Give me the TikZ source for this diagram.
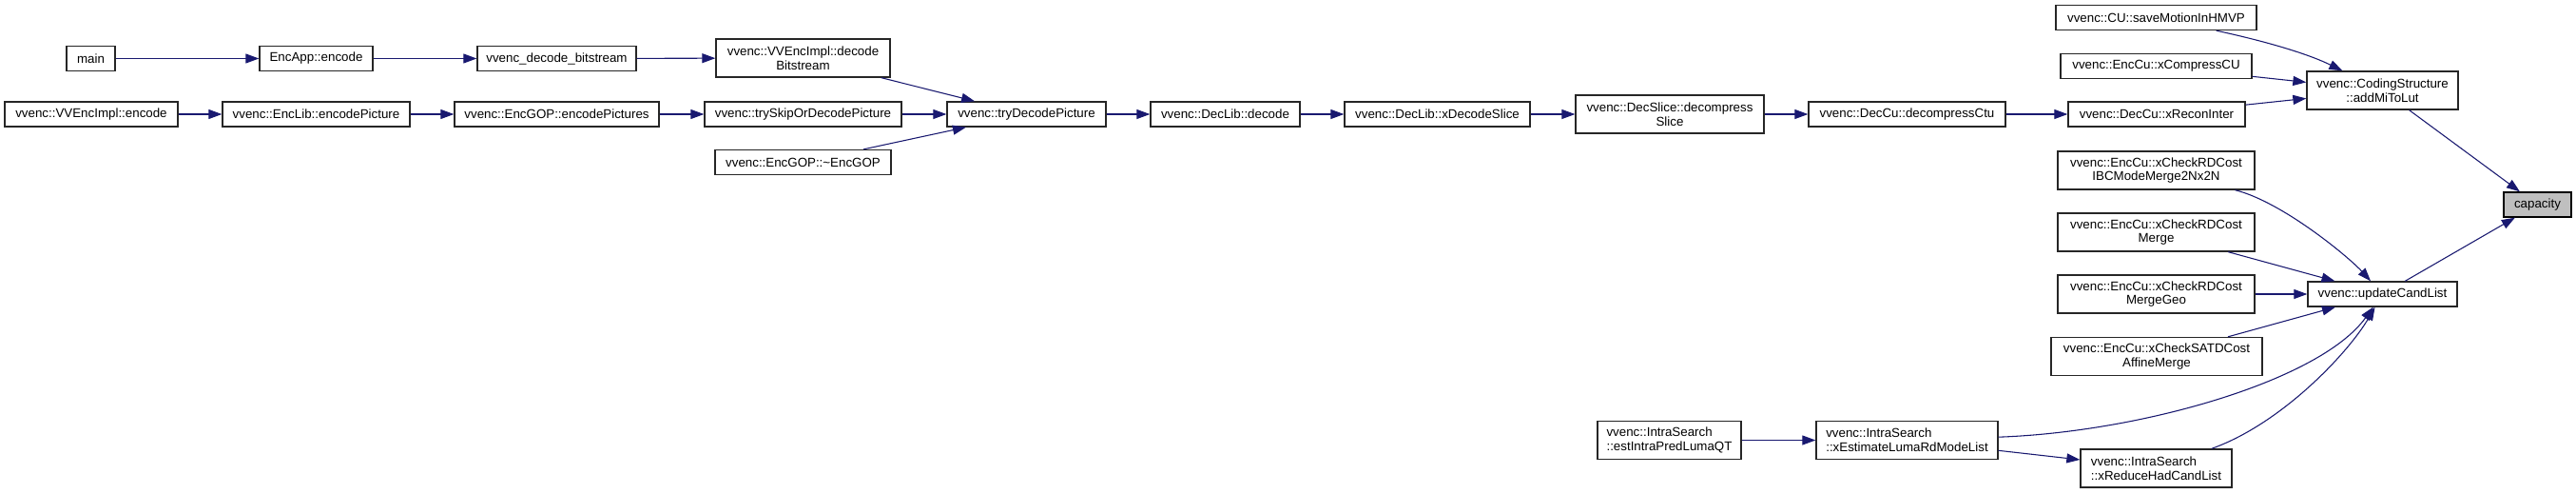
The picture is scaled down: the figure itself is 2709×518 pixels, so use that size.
\documentclass[tikz,border=0pt]{standalone}
\usepackage{fontspec}
\setmainfont{Liberation Sans}
\usetikzlibrary{arrows.meta}
\definecolor{edgeblue}{HTML}{191970}
\definecolor{capfill}{HTML}{BFBFBF}
\definecolor{boxline}{HTML}{262626}
\begin{document}
\begin{tikzpicture}[x=0.75pt,y=-0.75pt,
  box/.style={draw=boxline, line width=1pt, fill=white, inner sep=0pt,
    font=\fontsize{10}{11}\selectfont, align=center},
  lbox/.style={box, align=left},
  sz/.style 2 args={minimum width=#1*0.75pt, minimum height=#2*0.75pt},
  call/.style={draw=edgeblue, line width=0.8pt, -{Triangle[length=10.5pt,width=7.5pt]}}
]
\fill[white] (0,0) rectangle (2709,518);
\useasboundingbox (0,0) rectangle (2709,518);

% nodes
\node[box, sz={51}{26}]  (main)    at (95.5,61.5)  {main};
\node[box, sz={119}{26}] (encapp)  at (332.5,61.5) {EncApp::encode};
\node[box, sz={167}{26}] (vdb)     at (585.5,61.5) {vvenc\_decode\_bitstream};
\node[box, sz={183}{40}] (decbs)   at (844.5,61)   {vvenc::VVEncImpl::decode\\Bitstream};
\node[box, sz={182}{26}] (vencode) at (96,120)     {vvenc::VVEncImpl::encode};
\node[box, sz={197}{26}] (encpic)  at (332.5,120)  {vvenc::EncLib::encodePicture};
\node[box, sz={215}{26}] (encpics) at (585.5,120)  {vvenc::EncGOP::encodePictures};
\node[box, sz={207}{26}] (tryskip) at (844.5,120)  {vvenc::trySkipOrDecodePicture};
\node[box, sz={185}{26}] (encgopd) at (844.5,170.5) {vvenc::EncGOP::\textasciitilde EncGOP};
\node[box, sz={167}{26}] (trydec)  at (1079.5,120) {vvenc::tryDecodePicture};
\node[box, sz={157}{26}] (dldec)   at (1288.5,120) {vvenc::DecLib::decode};
\node[box, sz={195}{26}] (xdslice) at (1511.5,120) {vvenc::DecLib::xDecodeSlice};
\node[box, sz={198}{40}] (dslice)  at (1756,120)   {vvenc::DecSlice::decompress\\Slice};
\node[box, sz={207}{26}] (dctu)    at (2005.5,120) {vvenc::DecCu::decompressCtu};
\node[box, sz={186}{26}] (xrecon)  at (2268,120)   {vvenc::DecCu::xReconInter};
\node[box, sz={211}{26}] (hmvp)    at (2267.5,18.5) {vvenc::CU::saveMotionInHMVP};
\node[box, sz={201}{26}] (xcomp)   at (2267.5,69.5) {vvenc::EncCu::xCompressCU};
\node[box, sz={159}{40}] (addmi)   at (2505.5,95)  {vvenc::CodingStructure\\::addMiToLut};
\node[box, sz={207}{40}] (ibc)     at (2267.5,179) {vvenc::EncCu::xCheckRDCost\\IBCModeMerge2Nx2N};
\node[box, sz={207}{40}] (merge)   at (2267.5,244) {vvenc::EncCu::xCheckRDCost\\Merge};
\node[box, sz={207}{40}] (mgeo)    at (2267.5,309) {vvenc::EncCu::xCheckRDCost\\MergeGeo};
\node[box, sz={222}{40}] (satd)    at (2268,374.5) {vvenc::EncCu::xCheckSATDCost\\AffineMerge};
\node[box, sz={157}{26}] (upd)     at (2505.5,309) {vvenc::updateCandList};
\node[box, sz={71}{26}, fill=capfill, draw=black] (cap) at (2668.5,215) {capacity};
\node[lbox, sz={151}{40}] (estintra) at (1755.5,462.5) {vvenc::IntraSearch\\::estIntraPredLumaQT};
\node[lbox, sz={191}{40}] (xest)   at (2005.5,462.5) {vvenc::IntraSearch\\::xEstimateLumaRdModeList};
\node[lbox, sz={159}{40}] (xred)   at (2267.5,492) {vvenc::IntraSearch\\::xReduceHadCandList};

% edges
\draw[call] (main) -- (encapp);
\draw[call] (encapp) -- (vdb);
\draw[call] (vdb) -- (decbs);
\draw[call] (vencode) -- (encpic);
\draw[call] (encpic) -- (encpics);
\draw[call] (encpics) -- (tryskip);
\draw[call] (decbs) -- (trydec);
\draw[call] (tryskip) -- (trydec);
\draw[call] (encgopd) -- (trydec);
\draw[call] (trydec) -- (dldec);
\draw[call] (dldec) -- (xdslice);
\draw[call] (xdslice) -- (dslice);
\draw[call] (dslice) -- (dctu);
\draw[call] (dctu) -- (xrecon);
\draw[call] (hmvp) .. controls (2390,45) and (2430,58) .. (addmi);
\draw[call] (xcomp) -- (addmi);
\draw[call] (xrecon) -- (addmi);
\draw[call] (addmi) -- (cap);
\draw[call] (upd) -- (cap);
\draw[call] (ibc) .. controls (2400,212) and (2470,270) .. (upd);
\draw[call] (merge) -- (upd);
\draw[call] (mgeo) -- (upd);
\draw[call] (satd) -- (upd);
\draw[call] (xest) .. controls (2251,454) and (2440,400) .. (upd);
\draw[call] (xred) .. controls (2400,445) and (2470,370) .. (upd);
\draw[call] (estintra) -- (xest);
\draw[call] (xest) -- (xred);
\end{tikzpicture}
\end{document}
